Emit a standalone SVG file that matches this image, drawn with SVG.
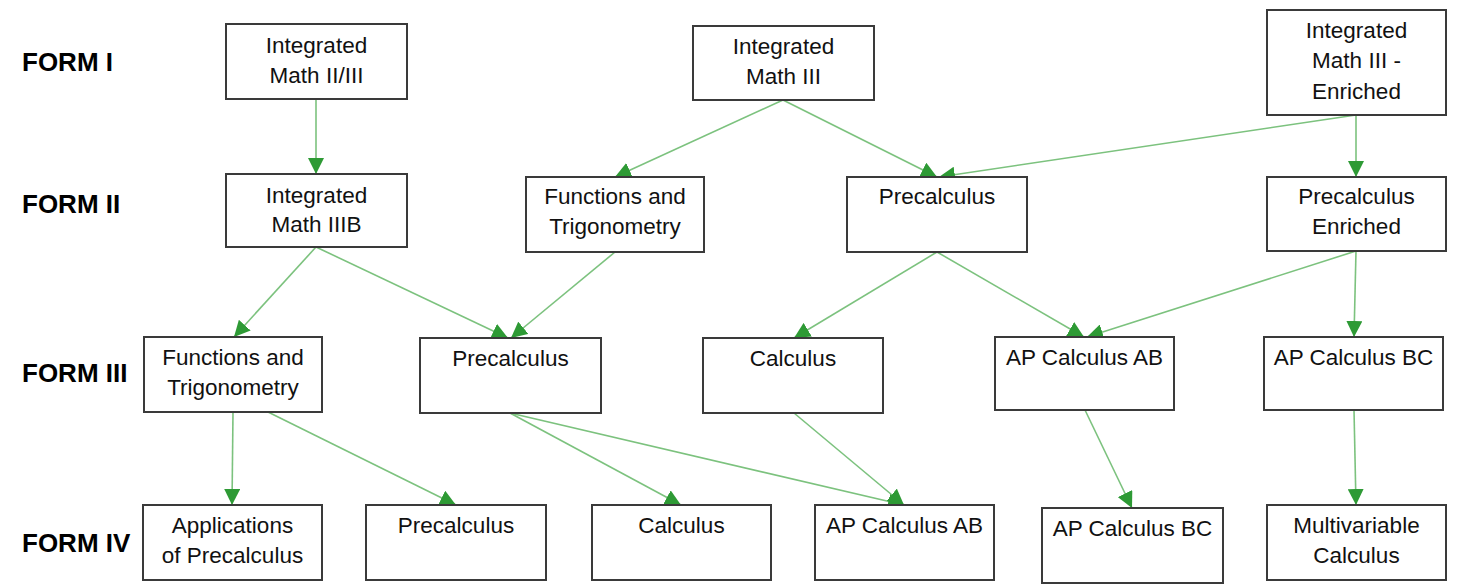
<svg xmlns="http://www.w3.org/2000/svg" width="1460" height="585" viewBox="0 0 1460 585">
<style>
.bg{fill:#ffffff}
.box{fill:#ffffff;stroke:#3a3a3a;stroke-width:2}
.t{font-family:"Liberation Sans",Arial,sans-serif;font-size:22.5px;fill:#111111;text-anchor:middle}
.form{font-family:"Liberation Sans",Arial,sans-serif;font-size:26px;font-weight:bold;fill:#000000}
.c{fill:none;stroke:#7cc27e;stroke-width:1.6;marker-end:url(#ah)}
</style>
<defs>
<marker id="ah" markerUnits="userSpaceOnUse" markerWidth="17" markerHeight="16" refX="16" refY="8" orient="auto">
<path d="M0,0 L16,8 L0,16 z" fill="#2e9a35"/>
</marker>
</defs>
<rect class="bg" x="0" y="0" width="1460" height="585"/>
<g id="form-labels">
<text class="form" x="22" y="71">FORM I</text>
<text class="form" x="22" y="213">FORM II</text>
<text class="form" x="22" y="382">FORM III</text>
<text class="form" x="22" y="552">FORM IV</text>
</g>
<g id="connectors">
<line class="c" x1="316" y1="99" x2="316" y2="174"/>
<line class="c" x1="783" y1="100" x2="615" y2="177"/>
<line class="c" x1="783" y1="100" x2="937" y2="177"/>
<line class="c" x1="1356" y1="115" x2="939" y2="177"/>
<line class="c" x1="1356" y1="115" x2="1356" y2="177"/>
<line class="c" x1="316" y1="247" x2="234" y2="337"/>
<line class="c" x1="316" y1="247" x2="508" y2="338"/>
<line class="c" x1="615" y1="252" x2="511" y2="338"/>
<line class="c" x1="937" y1="252" x2="794" y2="338"/>
<line class="c" x1="937" y1="252" x2="1084" y2="337"/>
<line class="c" x1="1356" y1="251" x2="1087" y2="337"/>
<line class="c" x1="1356" y1="251" x2="1354" y2="337"/>
<line class="c" x1="233" y1="412" x2="232" y2="505"/>
<line class="c" x1="268" y1="412" x2="456" y2="505"/>
<line class="c" x1="510" y1="413" x2="681" y2="505"/>
<line class="c" x1="510" y1="413" x2="904" y2="505"/>
<line class="c" x1="794" y1="413" x2="904" y2="505"/>
<line class="c" x1="1085" y1="410" x2="1132" y2="508"/>
<line class="c" x1="1354" y1="410" x2="1356" y2="505"/>
</g>
<g id="n-im23"><rect class="box" x="226" y="24" width="181" height="75"/><text class="t" x="316.5" y="53">Integrated</text><text class="t" x="316.5" y="83">Math II/III</text></g>
<g id="n-im3"><rect class="box" x="693" y="26" width="181" height="74"/><text class="t" x="783.5" y="54">Integrated</text><text class="t" x="783.5" y="84">Math III</text></g>
<g id="n-im3e"><rect class="box" x="1267" y="10" width="179" height="105"/><text class="t" x="1356.5" y="38">Integrated</text><text class="t" x="1356.5" y="68">Math III -</text><text class="t" x="1356.5" y="99">Enriched</text></g>
<g id="n-im3b"><rect class="box" x="226" y="174" width="181" height="73"/><text class="t" x="316.5" y="203">Integrated</text><text class="t" x="316.5" y="232">Math IIIB</text></g>
<g id="n-ft2"><rect class="box" x="526" y="177" width="178" height="75"/><text class="t" x="615" y="204">Functions and</text><text class="t" x="615" y="234">Trigonometry</text></g>
<g id="n-pc2"><rect class="box" x="847" y="177" width="180" height="75"/><text class="t" x="937" y="204">Precalculus</text></g>
<g id="n-pce"><rect class="box" x="1267" y="177" width="179" height="74"/><text class="t" x="1356.5" y="204">Precalculus</text><text class="t" x="1356.5" y="234">Enriched</text></g>
<g id="n-ft3"><rect class="box" x="144" y="337" width="178" height="75"/><text class="t" x="233" y="365">Functions and</text><text class="t" x="233" y="395">Trigonometry</text></g>
<g id="n-pc3"><rect class="box" x="420" y="338" width="181" height="75"/><text class="t" x="510.5" y="366">Precalculus</text></g>
<g id="n-calc3"><rect class="box" x="703" y="338" width="180" height="75"/><text class="t" x="793" y="366">Calculus</text></g>
<g id="n-ab3"><rect class="box" x="995" y="337" width="179" height="73"/><text class="t" x="1084.5" y="365">AP Calculus AB</text></g>
<g id="n-bc3"><rect class="box" x="1264" y="337" width="179" height="73"/><text class="t" x="1353.5" y="365">AP Calculus BC</text></g>
<g id="n-app4"><rect class="box" x="143" y="505" width="179" height="75"/><text class="t" x="232.5" y="533">Applications</text><text class="t" x="232.5" y="563">of Precalculus</text></g>
<g id="n-pc4"><rect class="box" x="366" y="505" width="180" height="75"/><text class="t" x="456" y="533">Precalculus</text></g>
<g id="n-calc4"><rect class="box" x="592" y="505" width="179" height="75"/><text class="t" x="681.5" y="533">Calculus</text></g>
<g id="n-ab4"><rect class="box" x="815" y="505" width="179" height="75"/><text class="t" x="904.5" y="533">AP Calculus AB</text></g>
<g id="n-bc4"><rect class="box" x="1042" y="508" width="181" height="75"/><text class="t" x="1132.5" y="536">AP Calculus BC</text></g>
<g id="n-mv4"><rect class="box" x="1267" y="505" width="179" height="75"/><text class="t" x="1356.5" y="533">Multivariable</text><text class="t" x="1356.5" y="563">Calculus</text></g>
</svg>
